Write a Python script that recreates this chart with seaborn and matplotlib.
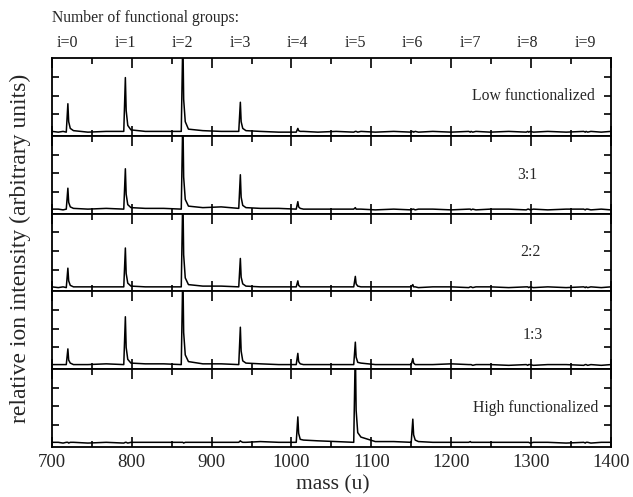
"""Mass spectra of functionalized fullerenes, five stacked panels."""

import matplotlib.pyplot as plt
import matplotlib.transforms as mtransforms
import pandas as pd
import seaborn as sns

# mass grid (u)
mass = [700, 708, 714,
        718, 720, 721, 723, 727, 745, 768,
        790, 792, 793, 795, 799, 817, 840,
        862, 864, 865, 867, 871, 889, 912,
        934, 936, 937, 939, 943, 961, 984,
        1006, 1008, 1009, 1011, 1015, 1033, 1056,
        1078, 1080, 1081, 1083, 1087, 1105, 1128,
        1150, 1152, 1153, 1155, 1159, 1177, 1200,
        1222, 1224, 1225, 1227, 1231, 1249, 1272,
        1294, 1296, 1297, 1299, 1303, 1321, 1344,
        1366, 1368, 1369, 1371, 1375, 1388, 1400]

low_func = [0.02, 0.01, 0.02,
            0.01, 0.39, 0.15, 0.06, 0.03, 0.01, 0.02,
            0.02, 0.74, 0.30, 0.10, 0.04, 0.02, 0.02,
            0.02, 1.30, 0.45, 0.15, 0.05, 0.03, 0.02,
            0.02, 0.41, 0.15, 0.06, 0.03, 0.02, 0.01,
            0.01, 0.06, 0.03, 0.02, 0.02, 0.01, 0.02,
            0.01, 0.02, 0.02, 0.01, 0.02, 0.01, 0.02,
            0.01, 0.02, 0.01, 0.02, 0.01, 0.02, 0.01,
            0.02, 0.01, 0.02, 0.01, 0.02, 0.01, 0.02,
            0.01, 0.02, 0.01, 0.02, 0.01, 0.02, 0.01,
            0.02, 0.01, 0.02, 0.01, 0.02, 0.01, 0.02]

ratio_3_1 = [0.02, 0.02, 0.01,
             0.02, 0.30, 0.11, 0.05, 0.03, 0.02, 0.03,
             0.02, 0.56, 0.22, 0.08, 0.04, 0.03, 0.03,
             0.02, 1.30, 0.45, 0.15, 0.06, 0.04, 0.05,
             0.03, 0.48, 0.18, 0.07, 0.04, 0.03, 0.03,
             0.02, 0.12, 0.05, 0.03, 0.02, 0.02, 0.02,
             0.02, 0.04, 0.02, 0.02, 0.02, 0.01, 0.02,
             0.01, 0.02, 0.02, 0.01, 0.02, 0.02, 0.01,
             0.02, 0.02, 0.01, 0.02, 0.01, 0.02, 0.02,
             0.01, 0.02, 0.02, 0.01, 0.02, 0.01, 0.02,
             0.02, 0.01, 0.02, 0.02, 0.01, 0.02, 0.01]

ratio_2_2 = [0.02, 0.01, 0.02,
             0.01, 0.27, 0.10, 0.04, 0.02, 0.02, 0.02,
             0.02, 0.54, 0.20, 0.07, 0.03, 0.02, 0.02,
             0.02, 1.30, 0.45, 0.14, 0.05, 0.03, 0.03,
             0.02, 0.40, 0.15, 0.06, 0.03, 0.02, 0.02,
             0.02, 0.10, 0.04, 0.02, 0.02, 0.02, 0.02,
             0.02, 0.16, 0.06, 0.03, 0.02, 0.02, 0.02,
             0.02, 0.05, 0.02, 0.02, 0.01, 0.02, 0.02,
             0.01, 0.02, 0.02, 0.01, 0.02, 0.02, 0.01,
             0.02, 0.02, 0.01, 0.02, 0.01, 0.02, 0.01,
             0.02, 0.01, 0.02, 0.01, 0.02, 0.01, 0.02]

ratio_1_3 = [0.02, 0.02, 0.02,
             0.02, 0.23, 0.08, 0.04, 0.02, 0.02, 0.03,
             0.02, 0.66, 0.25, 0.09, 0.04, 0.03, 0.03,
             0.02, 1.30, 0.45, 0.15, 0.06, 0.03, 0.03,
             0.02, 0.52, 0.20, 0.07, 0.04, 0.03, 0.02,
             0.02, 0.17, 0.06, 0.03, 0.02, 0.02, 0.02,
             0.02, 0.32, 0.12, 0.05, 0.04, 0.02, 0.02,
             0.02, 0.10, 0.04, 0.02, 0.02, 0.02, 0.03,
             0.02, 0.02, 0.02, 0.01, 0.02, 0.02, 0.01,
             0.02, 0.01, 0.02, 0.02, 0.01, 0.02, 0.02,
             0.01, 0.02, 0.02, 0.01, 0.02, 0.01, 0.02]

high_func = [0.02, 0.02, 0.01,
             0.02, 0.02, 0.01, 0.02, 0.02, 0.01, 0.02,
             0.01, 0.02, 0.02, 0.01, 0.02, 0.02, 0.02,
             0.02, 0.02, 0.01, 0.02, 0.02, 0.02, 0.02,
             0.02, 0.04, 0.03, 0.02, 0.02, 0.03, 0.02,
             0.02, 0.36, 0.14, 0.06, 0.05, 0.04, 0.03,
             0.02, 1.30, 0.45, 0.15, 0.09, 0.03, 0.03,
             0.02, 0.33, 0.12, 0.05, 0.03, 0.02, 0.02,
             0.02, 0.03, 0.02, 0.02, 0.02, 0.02, 0.02,
             0.02, 0.02, 0.02, 0.01, 0.02, 0.02, 0.01,
             0.02, 0.01, 0.02, 0.02, 0.01, 0.02, 0.02]

panel_labels = ["Low functionalized", "3:1", "2:2", "1:3", "High functionalized"]
spectra = [low_func, ratio_3_1, ratio_2_2, ratio_1_3, high_func]

group_labels = ["i=0", "i=1", "i=2", "i=3", "i=4", "i=5", "i=6", "i=7", "i=8", "i=9"]
group_mass = [720, 792, 864, 936, 1008, 1080, 1152, 1224, 1296, 1368]

sns.set_style("ticks")
plt.rcParams["font.family"] = ["Liberation Serif", "DejaVu Serif"]

fig, axes = plt.subplots(5, 1, figsize=(6.33, 4.97), dpi=100, sharex=True)
fig.subplots_adjust(left=0.082, right=0.965, top=0.883, bottom=0.101, hspace=0)

label_pos = [(1380, 0.51, "right"), (1296, 0.50, "center"), (1299, 0.50, "center"),
             (1302, 0.44, "center"), (1384, 0.50, "right")]

for ax, spec, lab, (lx, ly, lha) in zip(axes, spectra, panel_labels, label_pos):
    df = pd.DataFrame({"mass": mass, "intensity": spec})
    sns.lineplot(data=df, x="mass", y="intensity", ax=ax, color="black",
                 linewidth=1.1, estimator=None, sort=False)
    ax.set_xlim(700, 1400)
    ax.set_ylim(-0.04, 1.0)
    ax.set_yticks([0.25, 0.5, 0.75])
    ax.set_yticklabels([])
    ax.set_xticks([700, 800, 900, 1000, 1100, 1200, 1300, 1400])
    ax.set_xticks([750, 850, 950, 1050, 1150, 1250, 1350], minor=True)
    ax.tick_params(axis="both", which="both", direction="in", top=True,
                   right=True, width=1.2, color="black")
    ax.tick_params(axis="x", which="major", length=7)
    ax.tick_params(axis="x", which="minor", length=4)
    ax.tick_params(axis="y", length=5)
    ax.set_xlabel("")
    ax.set_ylabel("")
    for s in ax.spines.values():
        s.set_linewidth(1.3)
        s.set_color("black")
    ax.text(lx, ly, lab, transform=mtransforms.blended_transform_factory(
        ax.transData, ax.transAxes), ha=lha, va="center", fontsize=11.3)

axes[-1].tick_params(axis="x", labelsize=13.5, pad=5)

fig.text(0.525, 0.006, "mass (u)", ha="center", va="bottom", fontsize=15.5)
fig.text(0.032, 0.50, "relative ion intensity (arbitrary units)", rotation=90,
         ha="center", va="center", fontsize=17)

fig.text(0.082, 0.964, "Number of functional groups:", ha="left", va="center",
         fontsize=11.3)
top_tr = mtransforms.blended_transform_factory(axes[0].transData, fig.transFigure)
for gm, gl in zip(group_mass, group_labels):
    axes[0].text(gm, 0.913, gl, transform=top_tr, ha="center", va="center",
                 fontsize=11.5)

plt.savefig("out.png", dpi=100)
plt.close()
